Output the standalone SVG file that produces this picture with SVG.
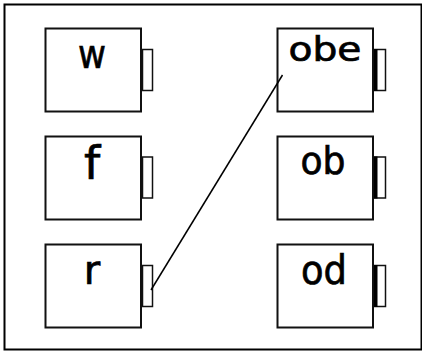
<svg xmlns="http://www.w3.org/2000/svg" width="422" height="351" viewBox="0 0 422 351">
<style>
.box{fill:#fff;stroke:#111;stroke-width:2}
.port{fill:#fff;stroke:#111;stroke-width:1.5}
.lbl{font-family:"DejaVu Sans",sans-serif;fill:#000;stroke:#000;stroke-width:0.7;text-anchor:middle}
.conn{stroke:#000;stroke-width:1.5;fill:none}
</style>
<rect x="0" y="0" width="422" height="351" fill="#fff"/>
<rect x="4.5" y="4.5" width="417" height="345" fill="none" stroke="#000" stroke-width="2"/>
<g id="w">
<rect class="box" x="45.5" y="28.5" width="95.5" height="83"/>
<rect class="port" x="142.5" y="49.5" width="10" height="41"/>
<text class="lbl" x="92" y="68" font-size="40" textLength="28" lengthAdjust="spacingAndGlyphs">w</text>
</g>
<g id="f">
<rect class="box" x="45.5" y="136.5" width="95.5" height="83"/>
<rect class="port" x="142.5" y="157" width="10" height="41"/>
<text class="lbl" x="92" y="179" font-size="46">f</text>
</g>
<g id="r">
<rect class="box" x="45.5" y="244.5" width="95.5" height="83"/>
<rect class="port" x="142.5" y="265.5" width="10" height="41"/>
<text class="lbl" x="92" y="284" font-size="40">r</text>
</g>
<g id="obe">
<rect class="box" x="277.5" y="28.5" width="95.5" height="83"/>
<rect class="port" x="374.5" y="49.5" width="11" height="41"/>
<rect x="374" y="49" width="3.5" height="42" fill="#000"/>
<text class="lbl" x="325" y="61" font-size="33" textLength="73" lengthAdjust="spacingAndGlyphs">obe</text>
</g>
<g id="ob">
<rect class="box" x="277.5" y="136.5" width="95.5" height="83"/>
<rect class="port" x="374.5" y="157" width="11" height="41"/>
<rect x="374" y="156.5" width="3.5" height="42" fill="#000"/>
<text class="lbl" x="323" y="174" font-size="37" textLength="45" lengthAdjust="spacingAndGlyphs">ob</text>
</g>
<g id="od">
<rect class="box" x="277.5" y="244.5" width="95.5" height="83"/>
<rect class="port" x="374.5" y="265.5" width="11" height="41"/>
<rect x="374" y="265" width="3.5" height="42" fill="#000"/>
<text class="lbl" x="324" y="284" font-size="40" textLength="46" lengthAdjust="spacingAndGlyphs">od</text>
</g>
<g id="connectors">
<line class="conn" x1="282.5" y1="75" x2="151" y2="290"/>
</g>
</svg>
